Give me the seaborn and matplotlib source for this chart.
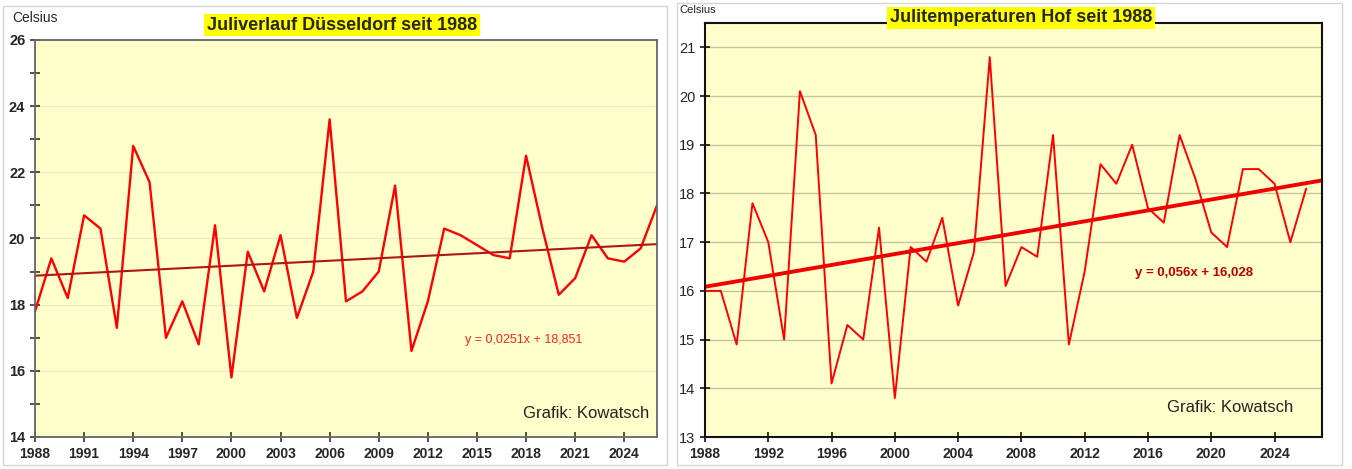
import numpy as np
import pandas as pd
import matplotlib
matplotlib.use("Agg")
import matplotlib.pyplot as plt
import seaborn as sns
from matplotlib.patches import Rectangle
from matplotlib.ticker import MultipleLocator

# =======================
# Data
# =======================
years = list(range(1988, 2027))

duesseldorf = [17.8, 19.4, 18.2, 20.7, 20.3, 17.3, 22.8, 21.7, 17.0, 18.1,
               16.8, 20.4, 15.8, 19.6, 18.4, 20.1, 17.6, 19.0, 23.6, 18.1,
               18.4, 19.0, 21.6, 16.6, 18.1, 20.3, 20.1, 19.8, 19.5, 19.4,
               22.5, 20.3, 18.3, 18.8, 20.1, 19.4, 19.3, 19.7, 21.0]

hof = [16.0, 16.0, 14.9, 17.8, 17.0, 15.0, 20.1, 19.2, 14.1, 15.3,
       15.0, 17.3, 13.8, 16.9, 16.6, 17.5, 15.7, 16.8, 20.8, 16.1,
       16.9, 16.7, 19.2, 14.9, 16.4, 18.6, 18.2, 19.0, 17.7, 17.4,
       19.2, 18.3, 17.2, 16.9, 18.5, 18.5, 18.2, 17.0, 18.1]

# trend equations shown in the charts (x = 1, 2, 3, ...)
trend_dus = (0.0251, 18.851)
trend_hof = (0.056, 16.028)
trend_hof_years = list(range(1988, 2028))

df_dus = pd.DataFrame({"Jahr": years, "Temp": duesseldorf})
df_hof = pd.DataFrame({"Jahr": years, "Temp": hof})

i_dus = np.arange(1, len(years) + 1)
i_hof = np.arange(1, len(trend_hof_years) + 1)
df_dus_trend = pd.DataFrame({"Jahr": years, "Temp": trend_dus[0] * i_dus + trend_dus[1]})
df_hof_trend = pd.DataFrame({"Jahr": trend_hof_years, "Temp": trend_hof[0] * i_hof + trend_hof[1]})

# =======================
# Figure
# =======================
sns.set_style("white")
plt.rcParams['font.family'] = ['Liberation Sans', 'DejaVu Sans']
NARROW = ['Liberation Sans Narrow', 'Liberation Sans', 'DejaVu Sans']

W, H = 1352, 469
fig = plt.figure(figsize=(W / 100, H / 100), dpi=100)
fig.patch.set_facecolor("white")


def ax_at(x0, y0, x1, y1):
    return fig.add_axes([x0 / W, 1 - y1 / H, (x1 - x0) / W, (y1 - y0) / H])


# panel frames
fig.patches.append(Rectangle((3 / W, 1 - 465 / H), 664 / W, 459 / H, transform=fig.transFigure,
                             fill=False, ec="#d6d6d6", lw=1))
fig.patches.append(Rectangle((677 / W, 1 - 465 / H), 665 / W, 462 / H, transform=fig.transFigure,
                             fill=False, ec="#d6d6d6", lw=1))

# ----- left: Düsseldorf -----
ax1 = ax_at(35, 40, 657, 437)
ax1.set_facecolor("#ffffcc")
sns.lineplot(data=df_dus, x="Jahr", y="Temp", ax=ax1, color="#ff0000", lw=1.7)
sns.lineplot(data=df_dus_trend, x="Jahr", y="Temp", ax=ax1, color="#b01515", lw=1.5)
ax1.set_xlim(1988, 2026)
ax1.set_ylim(14, 26)
ax1.set_xticks(range(1988, 2025, 3))
ax1.set_yticks(range(14, 27, 2))
ax1.yaxis.set_minor_locator(MultipleLocator(1))
ax1.yaxis.grid(True, which="major", color="#ebebc8", lw=1)
ax1.set_axisbelow(True)
ax1.set_xlabel("")
ax1.set_ylabel("")
for s in ax1.spines.values():
    s.set_color("#666666")
    s.set_linewidth(1.3)
ax1.tick_params(axis="both", which="both", direction="inout", length=7, width=1.2,
                color="#333333", left=True, bottom=True)
for lab in ax1.get_xticklabels() + ax1.get_yticklabels():
    lab.set_family(NARROW)
    lab.set_fontweight("bold")
    lab.set_fontsize(10.5)
for lab in ax1.get_xticklabels():
    lab.set_fontsize(10)
ax1.tick_params(axis="x", pad=4)

fig.text(12 / W, 1 - 18 / H, "Celsius", fontsize=10, va="center", ha="left")
fig.text(342 / W, 1 - 25 / H, "Juliverlauf Düsseldorf seit 1988", family=NARROW,
         fontsize=13, fontweight="bold", ha="center", va="center",
         bbox=dict(facecolor="#ffff00", edgecolor="none", pad=2))
fig.text(524 / W, 1 - 340 / H, "y = 0,0251x + 18,851", family=NARROW, fontsize=9,
         color="#ff2020", ha="center", va="center")
fig.text(586 / W, 1 - 413 / H, "Grafik: Kowatsch", fontsize=12, ha="center", va="center",
         color="#222222")

# ----- right: Hof -----
ax2 = ax_at(705, 23, 1322, 437)
ax2.set_facecolor("#ffffcc")
sns.lineplot(data=df_hof, x="Jahr", y="Temp", ax=ax2, color="#ff0000", lw=1.4)
sns.lineplot(data=df_hof_trend, x="Jahr", y="Temp", ax=ax2, color="#f00000", lw=2.8)
ax2.set_xlim(1988, 2027)
ax2.set_ylim(13, 21.5)
ax2.set_xticks(range(1988, 2025, 4))
ax2.set_yticks(range(13, 22))
ax2.yaxis.grid(True, color="#c4c4a4", lw=1)
ax2.set_axisbelow(True)
ax2.set_xlabel("")
ax2.set_ylabel("")
for s in ax2.spines.values():
    s.set_color("#111111")
    s.set_linewidth(1.5)
ax2.tick_params(axis="both", direction="inout", length=7, width=1.2, color="#111111",
                left=True, bottom=True)
for lab in ax2.get_xticklabels():
    lab.set_family(NARROW)
    lab.set_fontweight("bold")
    lab.set_fontsize(10)
for lab in ax2.get_yticklabels():
    lab.set_fontsize(10.5)

fig.text(679 / W, 1 - 10 / H, "Celsius", fontsize=8, va="center", ha="left")
fig.text(1021 / W, 1 - 18 / H, "Julitemperaturen Hof seit 1988", family=NARROW,
         fontsize=13, fontweight="bold", ha="center", va="center",
         bbox=dict(facecolor="#ffff00", edgecolor="none", pad=2))
fig.text(1194 / W, 1 - 273 / H, "y = 0,056x + 16,028", family=NARROW, fontsize=9.5,
         fontweight="bold", color="#c00000", ha="center", va="center")
fig.text(1230 / W, 1 - 407 / H, "Grafik: Kowatsch", fontsize=12, ha="center", va="center",
         color="#222222")

fig.savefig("out.png", dpi=100)
